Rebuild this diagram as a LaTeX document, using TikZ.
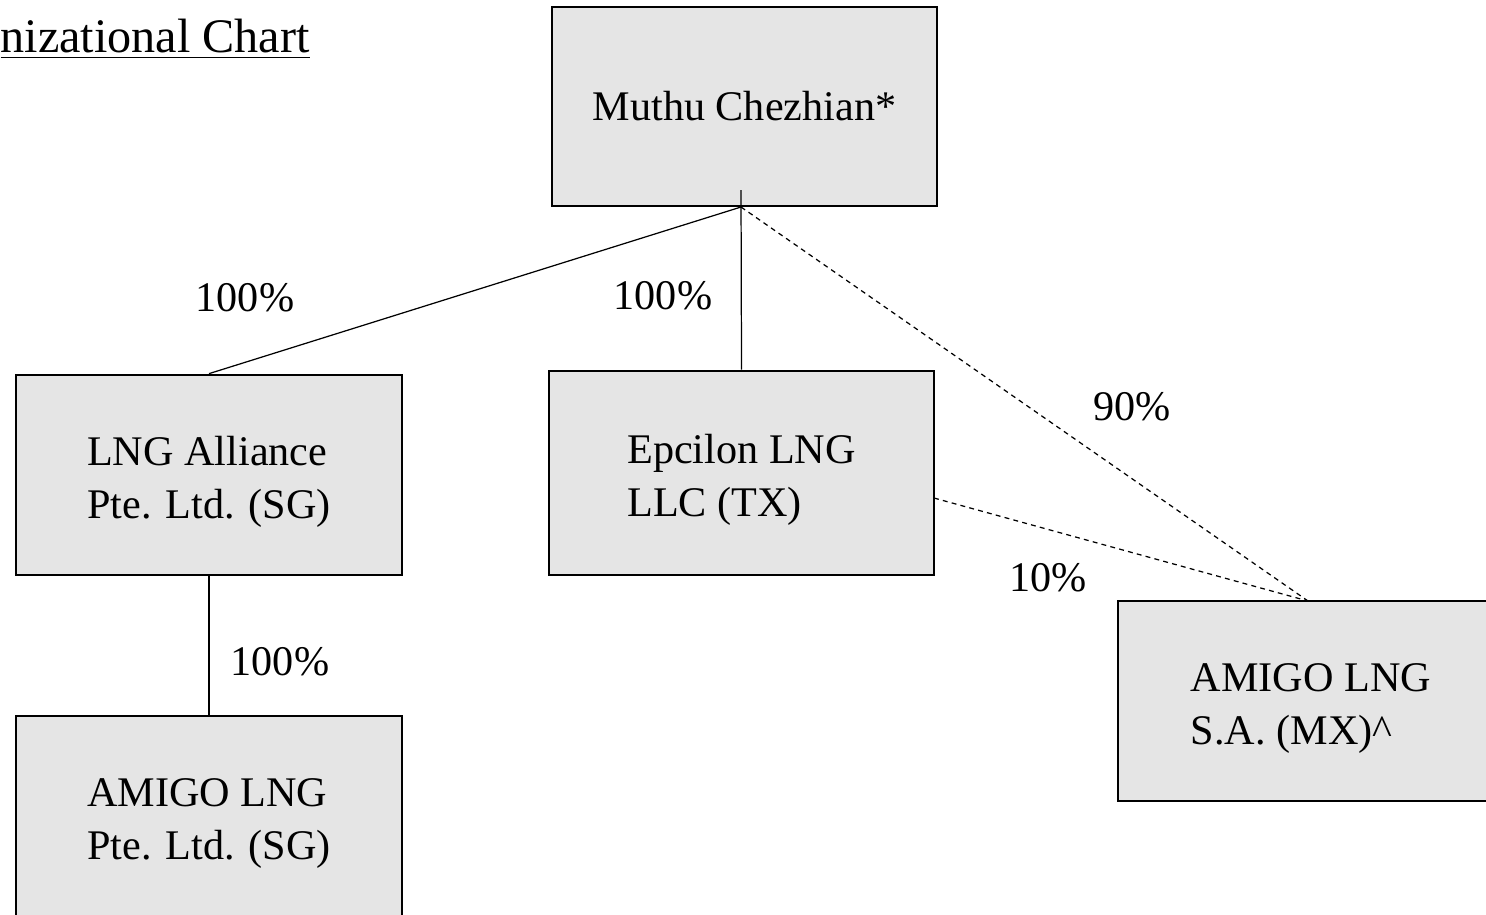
\documentclass[tikz,border=0pt]{standalone}
\usepackage{fontspec}
\setmainfont{Liberation Serif}
\usepackage{tikz}

\begin{document}
\begin{tikzpicture}[x=0.01cm, y=-0.01cm,
        font=\fontsize{12}{15}\selectfont,
        box/.style={draw, line width=0.75pt, fill=gray!20, align=left,
            minimum width=3.86cm, minimum height=2cm, inner sep=0pt},
        twoline/.style={text height=27.1pt}, % pushes the two lines a bit lower
        link/.style={line width=0.35pt},
        share/.style={line width=0.35pt, dash pattern=on 1.4pt off 1.2pt}]
        \useasboundingbox (0, 0) rectangle (1486, 914);

        \node[anchor=base west, inner sep=0pt, font=\fontsize{13.7}{15}\selectfont] (title) at (0, 52) {\underline{nizational Chart}};

        \node[box, minimum width=3.85cm, minimum height=1.99cm] (owner) at (744.5, 106.5) {Muthu Chezhian*};
        \node[box, twoline] (lnga) at (209, 475) {LNG Alliance\\Pte. Ltd. (SG)};
        \node[box, twoline, minimum width=3.85cm, minimum height=2.04cm] (epc) at (741.5, 473) {Epcilon LNG\\LLC (TX)};
        \node[box, twoline] (amsg) at (209, 816) {AMIGO LNG\\Pte. Ltd. (SG)};
        \node[box, twoline] (ammx) at (1311, 701) {AMIGO LNG\\S.A. (MX)\textasciicircum};

        \coordinate (hub) at (741, 207); % where the lines leave the owner box
        \coordinate (stem) at (741, 190); % line to Epcilon starts inside the box
        \coordinate (epcout) at (934, 498);
        \coordinate (mxin) at (1308, 601);

        \draw[link] (hub) -- (lnga.north);
        \draw[link] (stem) -- (epc.north);
        \draw[link] (lnga.south) -- (amsg.north);

        \begin{scope}[share]
            \draw (hub) -- (mxin);
            \draw (epcout) -- (mxin);
        \end{scope}

        \node (p1) at (245, 298) {100\%};
        \node (p2) at (663, 296) {100\%};
        \node (p3) at (1132, 407) {90\%};
        \node (p4) at (1048, 578) {10\%};
        \node (p5) at (280, 662) {100\%};
\end{tikzpicture}
\end{document}
